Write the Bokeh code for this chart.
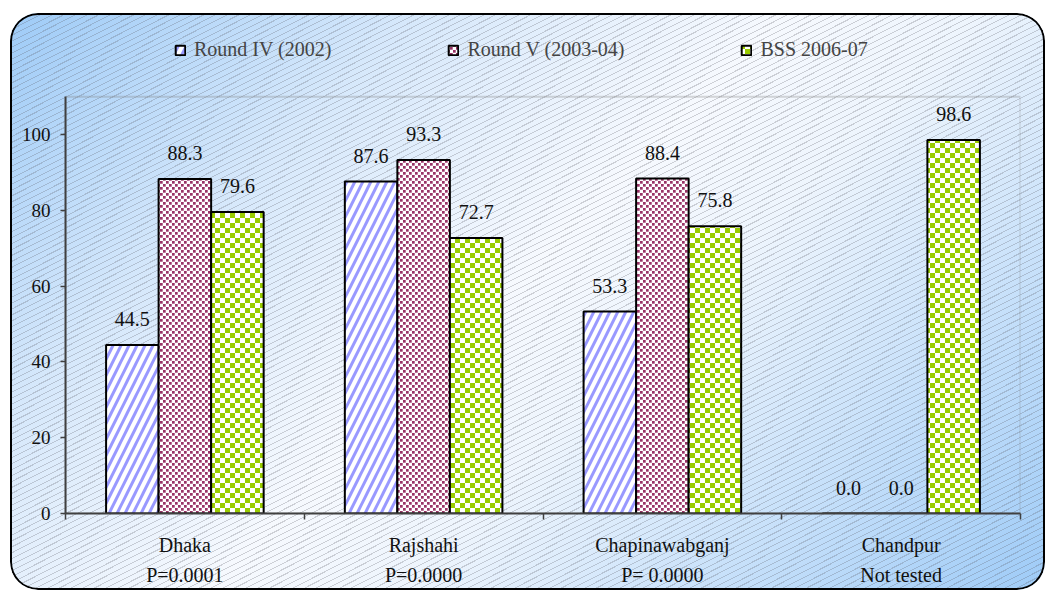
import numpy as np
from bokeh.plotting import figure
from bokeh.models import (ColumnDataSource, FixedTicker, Legend, LegendItem, CanvasTexture, Range1d,
                          BoxAnnotation)
from bokeh.core.properties import value
from bokeh.embed import file_html
from bokeh.resources import INLINE

# ---------------- data ----------------
districts = ["Dhaka", "Rajshahi", "Chapinawabganj", "Chandpur"]
p_values = ["P=0.0001", "P=0.0000", "P= 0.0000", "Not tested"]
series_names = ["Round IV (2002)", "Round V (2003-04)", "BSS 2006-07"]
round_iv = [44.5, 87.6, 53.3, 0.0]
round_v = [88.3, 93.3, 88.4, 0.0]
bss_2006 = [79.6, 72.7, 75.8, 98.6]
y_ticks = [0, 20, 40, 60, 80, 100]
y_max = 110

FONT = "Liberation Serif"

# frame spans the legend strip too; the visible plot box is drawn to y_max
p = figure(width=1035, height=577, x_range=Range1d(0, len(districts)), y_range=Range1d(0, 128.8),
           output_backend="svg", toolbar_location=None,
           min_border_left=55, min_border_right=25, min_border_top=12, min_border_bottom=77)
p.background_fill_color = None
p.border_fill_color = None
p.outline_line_color = None
p.xgrid.visible = False
p.ygrid.visible = False
p.styles = {
    "margin-left": "10px",
    "margin-top": "13px",
    "border-radius": "28px",
    "box-shadow": "inset 0 0 0 2px #000",
    "background": ("repeating-linear-gradient(153deg, rgba(255,255,255,0) 0px, rgba(255,255,255,0) 4.3px, "
                   "rgba(90,90,100,0.26) 4.3px, rgba(90,90,100,0.26) 5.3px), "
                   "linear-gradient(135deg, #9ecbf7 0%, #d6e8fb 25%, #f6f9fe 48%, #eef5fd 60%, #9ecbf7 100%)"),
}

p.add_layout(BoxAnnotation(left=0, right=len(districts), bottom=0, top=y_max, fill_alpha=0,
                           line_color="#808080", line_width=2, level="underlay"))

centers = np.arange(len(districts)) + 0.5
width = 0.22

checker = CanvasTexture(repetition="repeat", code="""
var c = ctx.canvas;
c.width = 10; c.height = 10;
ctx.fillStyle = "#99cc00";
ctx.fillRect(0, 0, 5, 5);
ctx.fillRect(5, 5, 5, 5);
""")
dots = CanvasTexture(repetition="repeat", code="""
var c = ctx.canvas;
c.width = 6; c.height = 6;
ctx.fillStyle = "#993366";
ctx.fillRect(0, 0, 2.7, 2.7);
ctx.fillRect(3, 3, 2.7, 2.7);
""")

styles = [
    dict(fill_color="white", hatch_pattern=value("/"), hatch_color="#9999ff", hatch_weight=3, hatch_scale=16),
    dict(fill_color="white", hatch_pattern=value("dots"), hatch_extra={"dots": dots}, hatch_color="#993366", hatch_scale=6),
    dict(fill_color="white", hatch_pattern=value("checker"), hatch_extra={"checker": checker}, hatch_color="#99cc00", hatch_scale=10),
]
all_series = [round_iv, round_v, bss_2006]
offsets = [-width, 0.0, width]

legend_items = []
for name, vals, off, st in zip(series_names, all_series, offsets, styles):
    src = ColumnDataSource(dict(x=centers + off, top=vals, label=[f"{v:.1f}" for v in vals]))
    r = p.vbar(x="x", top="top", width=width, bottom=0, source=src,
               line_color="black", line_width=2, **st)
    p.text(x="x", y="top", text="label", source=src, text_align="center", text_baseline="alphabetic",
           y_offset=-26, text_font=value(FONT), text_font_size="20px", text_color="#111111")
    legend_items.append(LegendItem(label=name, renderers=[r]))

legend = Legend(items=legend_items, orientation="horizontal", location=(109, 452),
                glyph_width=12, glyph_height=12, label_standoff=8, spacing=116,
                padding=0, margin=0, border_line_color=None, background_fill_alpha=0,
                label_text_font=FONT, label_text_font_size="20px", label_height=20)
p.add_layout(legend, "center")

# x axis: names (and test results) under group centres, ticks at group boundaries
p.xaxis.ticker = FixedTicker(ticks=list(centers), minor_ticks=list(range(len(districts) + 1)))
p.xaxis.major_label_overrides = {float(c): f"{d}\n{pv}" for c, d, pv in zip(centers, districts, p_values)}
p.xaxis.major_tick_line_color = None
p.xaxis.major_tick_out = 0
p.xaxis.major_tick_in = 0
p.xaxis.minor_tick_line_color = "#404040"
p.xaxis.minor_tick_line_width = 1.5
p.xaxis.minor_tick_out = 6
p.xaxis.minor_tick_in = 0
p.xaxis.axis_line_color = "#404040"
p.xaxis.axis_line_width = 2
p.xaxis.major_label_standoff = 14
p.xaxis.major_label_text_font = FONT
p.xaxis.major_label_text_font_size = "20px"
p.xaxis.major_label_text_line_height = 1.4
p.xaxis.major_label_text_color = "#111111"

p.yaxis.ticker = FixedTicker(ticks=y_ticks)
p.yaxis.bounds = (0, y_max)
p.yaxis.axis_line_color = "#404040"
p.yaxis.axis_line_width = 2
p.yaxis.major_tick_line_color = "#404040"
p.yaxis.major_tick_line_width = 1.5
p.yaxis.major_tick_out = 5
p.yaxis.major_tick_in = 0
p.yaxis.minor_tick_line_color = None
p.yaxis.major_label_standoff = 10
p.yaxis.major_label_text_font = FONT
p.yaxis.major_label_text_font_size = "19px"
p.yaxis.major_label_text_color = "#111111"

open("out.html", "w").write(file_html(p, INLINE))
